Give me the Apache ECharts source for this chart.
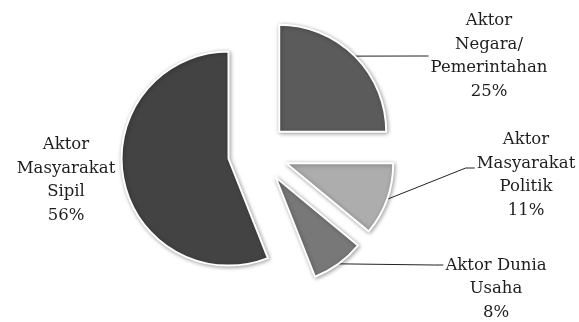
<!DOCTYPE html>
<html>
<head>
<meta charset="utf-8">
<script src="https://cdn.jsdelivr.net/npm/echarts@6/dist/echarts.min.js"></script>
<style>
  html, body { margin: 0; padding: 0; background: #fff; }
  #chartPie { width: 579px; height: 322px; }
</style>
</head>
<body>
<div id="chartPie"></div>
<script>
// actor shares (percent)
var categories = ['Aktor\nNegara/\nPemerintahan', 'Aktor\nMasyarakat\nPolitik', 'Aktor Dunia\nUsaha', 'Aktor\nMasyarakat\nSipil'];
var values = [25, 11, 8, 56];
var colors = ['#5a5b5a', '#adadad', '#787878', '#434343'];

// where each label block sits: centre x, centre y, where the leader line meets it (dy from centre)
var labelSpots = [[489, 56, 0], [526, 175, -7], [496, 289, -24], [66, 180, null]];

var pieCenter = [258, 153];
var pieRadius = 107;
var explode = 30;

var chart_pie = echarts.init(document.getElementById('chartPie'));

// the exploded slices
var sliceData = values.map(function (v, i) {
    return { name: categories[i], value: v, selected: true, itemStyle: { color: colors[i] } };
});
// same slices again, invisible, only to carry the labels (no offset transform on them)
var labelData = values.map(function (v, i) {
    return { name: categories[i], value: v, labelLine: { show: labelSpots[i][2] !== null } };
});

chart_pie.setOption({
    animation: false,
    series: [{
        type: 'pie',
        center: pieCenter,
        radius: pieRadius,
        startAngle: 90,
        selectedMode: 'multiple',
        selectedOffset: explode,
        emphasis: { scale: false },
        itemStyle: {
            borderColor: '#fff',
            borderWidth: 2,
            shadowBlur: 4,
            shadowOffsetX: 1,
            shadowOffsetY: 1,
            shadowColor: 'rgba(0,0,0,0.35)'
        },
        label: { show: false },
        labelLine: { show: false },
        data: sliceData
    }, {
        type: 'pie',
        center: pieCenter,
        radius: pieRadius,
        startAngle: 90,
        silent: true,
        avoidLabelOverlap: false,
        itemStyle: { color: 'rgba(0,0,0,0)' },
        label: {
            show: true,
            position: 'outside',
            formatter: '{b}\n{c}%',
            fontFamily: 'DejaVu Serif',
            fontSize: 16.5,
            lineHeight: 23.5,
            color: '#1e1e1e',
            align: 'center'
        },
        labelLine: {
            show: true,
            length: 20,
            length2: 10,
            lineStyle: { color: '#222', width: 1 }
        },
        labelLayout: function (p) {
            var spot = labelSpots[p.dataIndex];
            var w = p.labelRect.width;
            var out = { x: spot[0], y: spot[1], align: 'center', verticalAlign: 'middle' };
            var pts = p.labelLinePoints;
            if (pts && spot[2] !== null) {
                // push the start point out to the exploded slice's rim
                var dx = pts[0][0] - pieCenter[0];
                var dy = pts[0][1] - pieCenter[1];
                var len = Math.sqrt(dx * dx + dy * dy);
                var start = [pts[0][0] + dx / len * explode, pts[0][1] + dy / len * explode];
                var endX = spot[0] - w / 2 - 2;
                var endY = spot[1] + spot[2];
                out.labelLinePoints = [start, [endX - 9, endY], [endX, endY]];
            }
            return out;
        },
        data: labelData
    }]
});
</script>
</body>
</html>
